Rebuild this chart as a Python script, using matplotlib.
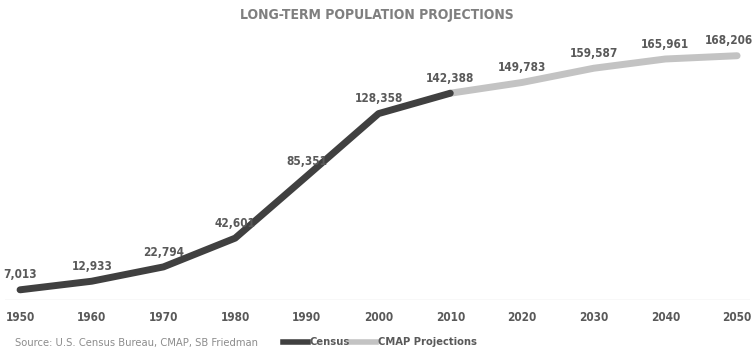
import matplotlib
matplotlib.use("Agg")
import matplotlib.pyplot as plt

census_years = [1950, 1960, 1970, 1980, 1990, 2000, 2010]
census_pop = [7013, 12933, 22794, 42601, 85351, 128358, 142388]
proj_years = [2010, 2020, 2030, 2040, 2050]
proj_pop = [142388, 149783, 159587, 165961, 168206]
tick_years = list(range(1950, 2051, 10))

title = "LONG-TERM POPULATION PROJECTIONS"
source = "Source: U.S. Census Bureau, CMAP, SB Friedman"

fam = ["DejaVu Sans", "Liberation Sans"]
stretch = "condensed"

dark = "#404040"
light = "#c3c3c3"
label_c = "#595959"

fig = plt.figure(figsize=(7.54, 3.54), dpi=100)
ax = fig.add_axes([5 / 754, 54 / 354, 745 / 754, (300 - 38.6) / 354])
ax.set_xlim(1947.9, 2051.8)
ax.set_ylim(0, 180000)

ax.plot(proj_years, proj_pop, color=light, lw=5, solid_capstyle="round",
        solid_joinstyle="round", zorder=2)
ax.plot(census_years, census_pop, color=dark, lw=5, solid_capstyle="round",
        solid_joinstyle="round", zorder=3)

all_years = census_years + proj_years[1:]
all_pop = census_pop + proj_pop[1:]
for x, v in zip(all_years, all_pop):
    dx = -6 if x == 2050 else 0
    ax.annotate(f"{v:,}", (x, v), xytext=(dx, 6), textcoords="offset points",
                ha="center", va="bottom", fontsize=8.5, fontweight="bold",
                color=label_c, family=fam, fontstretch=stretch)

ax.axhline(0, color="#dcdcdc", lw=1, zorder=1)
for s in ax.spines.values():
    s.set_visible(False)
ax.set_yticks([])
ax.set_xticks(tick_years)
ax.set_xticklabels([str(t) for t in tick_years], fontsize=8.5, fontweight="bold",
                   color=label_c, family=fam, fontstretch=stretch)
ax.tick_params(axis="x", length=0, pad=8)

fig.text(0.5, 1 - 15 / 354, title, ha="center", va="center", fontsize=10,
         fontweight="bold", color="#7f7f7f", family=fam, fontstretch=stretch)
fig.text(15 / 754, 1 - 343 / 354, source, ha="left", va="center", fontsize=8,
         color="#8c8c8c", family=fam, fontstretch=stretch)

# legend drawn in figure coordinates
fig.add_artist(plt.Line2D([283 / 754, 308 / 754], [1 - 342 / 354] * 2,
                          color=dark, lw=4, transform=fig.transFigure))
fig.text(310 / 754, 1 - 342 / 354, "Census", ha="left", va="center", fontsize=8,
         fontweight="bold", color=label_c, family=fam, fontstretch=stretch)
fig.add_artist(plt.Line2D([351 / 754, 376 / 754], [1 - 342 / 354] * 2,
                          color=light, lw=4, transform=fig.transFigure))
fig.text(378 / 754, 1 - 342 / 354, "CMAP Projections", ha="left", va="center",
         fontsize=8, fontweight="bold", color=label_c, family=fam,
         fontstretch=stretch)

fig.savefig("out.png", dpi=100, facecolor="white")
